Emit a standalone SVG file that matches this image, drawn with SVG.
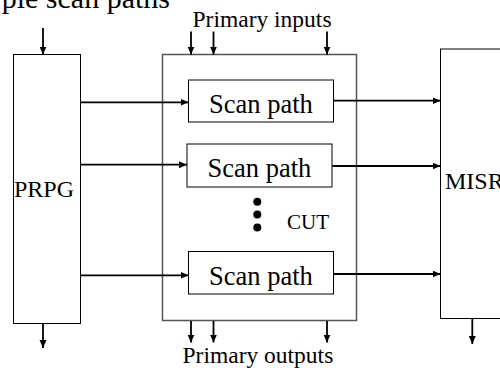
<svg xmlns="http://www.w3.org/2000/svg" width="500" height="368" viewBox="0 0 500 368">
  <style>
    .box { fill: #fff; stroke: #000; stroke-width: 1; }
    .cut { fill: #fff; stroke: #555; stroke-width: 1.5; }
    .lbl { font-family: "Liberation Serif", "Times New Roman", serif; fill: #000; }
    .arr { stroke: #000; stroke-width: 1.8; fill: none; marker-end: url(#ah); }
  </style>
  <defs>
    <marker id="ah" markerUnits="userSpaceOnUse" markerWidth="9" markerHeight="8" refX="8" refY="3.5" orient="auto">
      <path d="M0,0 L8,3.5 L0,7 z" fill="#000"/>
    </marker>
  </defs>
  <rect width="500" height="368" fill="#fff"/>

  <text class="lbl" x="170" y="8" font-size="30" text-anchor="end">ple scan paths</text>

  <g id="prpg">
    <rect class="box" x="13.5" y="54.5" width="67" height="269"/>
    <text class="lbl" x="44" y="196.5" font-size="24" text-anchor="middle">PRPG</text>
  </g>

  <g id="cut">
    <rect class="cut" x="162.5" y="54.5" width="194" height="266"/>
    <circle cx="257.3" cy="201.7" r="4" fill="#000"/>
    <circle cx="257.3" cy="214.5" r="4" fill="#000"/>
    <circle cx="257.3" cy="227.5" r="4" fill="#000"/>
    <text class="lbl" x="287" y="228.5" font-size="21">CUT</text>
  </g>

  <g id="scan1">
    <rect class="box" x="188.5" y="80" width="145" height="42"/>
    <text class="lbl" x="261" y="113" font-size="26.5" text-anchor="middle">Scan path</text>
  </g>
  <g id="scan2">
    <rect class="box" x="187" y="144" width="145" height="43"/>
    <text class="lbl" x="259.5" y="177" font-size="26.5" text-anchor="middle">Scan path</text>
  </g>
  <g id="scan3">
    <rect class="box" x="188.5" y="251.5" width="145" height="42.5"/>
    <text class="lbl" x="261" y="284.5" font-size="26.5" text-anchor="middle">Scan path</text>
  </g>

  <g id="misr">
    <rect class="box" x="440.5" y="49" width="80" height="269.5"/>
    <text class="lbl" x="445" y="188.5" font-size="24">MISR</text>
  </g>

  <g id="io-labels">
    <text class="lbl" x="192.5" y="26.5" font-size="23.5">Primary inputs</text>
    <text class="lbl" x="182.5" y="362.5" font-size="23.5">Primary outputs</text>
  </g>

  <g id="connectors">
    <line class="arr" x1="43" y1="28" x2="43" y2="54.5"/>
    <line class="arr" x1="43" y1="323.5" x2="43" y2="348"/>
    <line class="arr" x1="191" y1="31.5" x2="191" y2="54.5"/>
    <line class="arr" x1="213.5" y1="31.5" x2="213.5" y2="54.5"/>
    <line class="arr" x1="327" y1="31.5" x2="327" y2="54.5"/>
    <line class="arr" x1="191" y1="321" x2="191" y2="342.5"/>
    <line class="arr" x1="213.5" y1="321" x2="213.5" y2="342.5"/>
    <line class="arr" x1="327" y1="321" x2="327" y2="342.5"/>
    <line class="arr" x1="472.3" y1="318.5" x2="472.3" y2="344"/>
    <line class="arr" x1="80.5" y1="102.3" x2="188.5" y2="102.3"/>
    <line class="arr" x1="80.5" y1="164.7" x2="187" y2="164.7"/>
    <line class="arr" x1="80.5" y1="275.3" x2="188.5" y2="275.3"/>
    <line class="arr" x1="333.7" y1="100.7" x2="440.5" y2="100.7"/>
    <line class="arr" x1="332.3" y1="166" x2="440.5" y2="166"/>
    <line class="arr" x1="333.7" y1="274" x2="440.5" y2="274"/>
  </g>
</svg>
